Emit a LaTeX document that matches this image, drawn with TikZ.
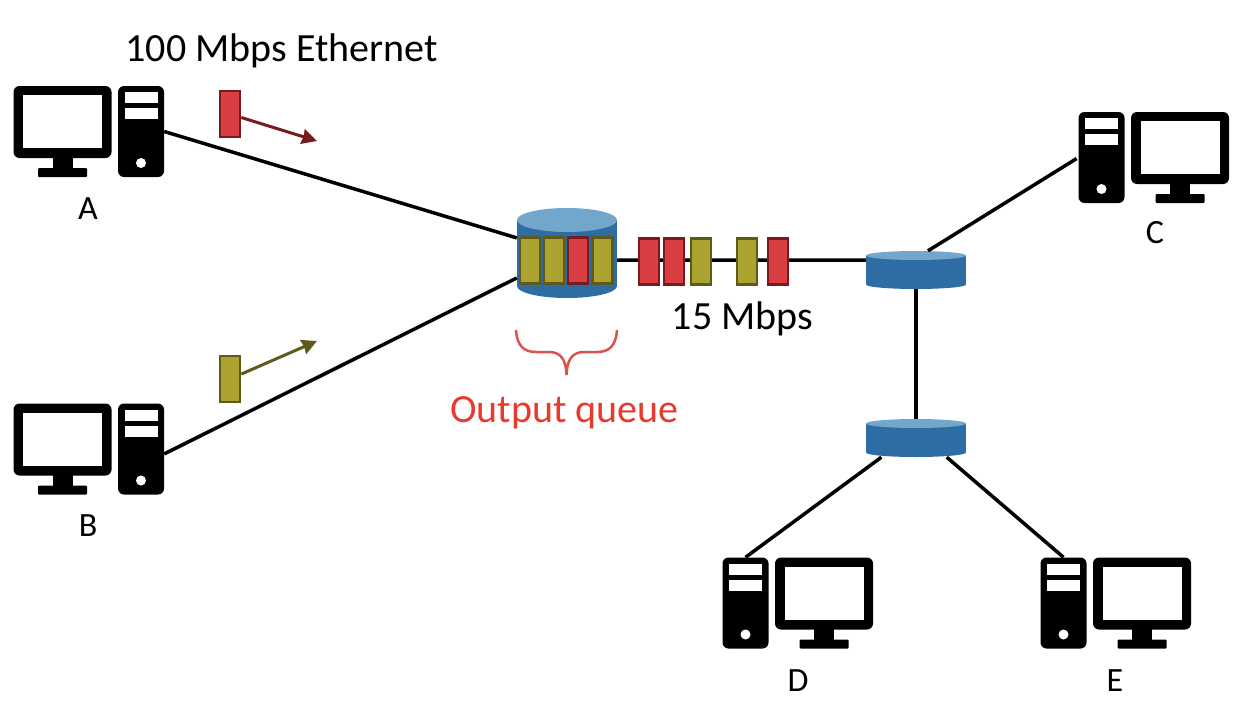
\documentclass[tikz,border=0pt]{standalone}
\usepackage{fontspec}
\setmainfont{Carlito}
\usetikzlibrary{arrows.meta}
\definecolor{bodyblue}{HTML}{2E6CA4}
\definecolor{topblue}{HTML}{73A6CB}
\definecolor{pktred}{HTML}{D93F42}
\definecolor{pktolive}{HTML}{ABA22F}
\definecolor{darkred}{HTML}{771B1E}
\definecolor{darkolive}{HTML}{5E5A1A}
\definecolor{bracered}{HTML}{D9534F}
\definecolor{queuered}{HTML}{E8392B}
\tikzset{
  label text/.style={inner sep=0pt, font=\fontsize{40}{44}\selectfont},
  host name/.style={inner sep=0pt, font=\fontsize{34}{38}\selectfont},
  packet/.style={rectangle, draw, line width=2.5pt, minimum width=20pt, minimum height=46pt, inner sep=0pt},
  redpacket/.style={packet, fill=pktred, draw=darkred},
  olivepacket/.style={packet, fill=pktolive, draw=darkolive},
  link/.style={line width=3.5pt},
  pics/drum/.style 2 args={code={
    \fill [bodyblue] (0,#1-#2) ellipse [x radius=50, y radius=#2];
    \node [rectangle, minimum width=100pt, minimum height=2*#1 pt, inner sep=0pt] (-box) at (0,0) {};
    \fill [bodyblue] (-50,-#1+#2) rectangle (50,#1-#2);
    \fill [topblue] (0,-#1+#2) ellipse [x radius=50, y radius=#2];
  }},
  pc/.pic={
    \fill [rounded corners=6pt] (-127.5,-45.5) rectangle (-29.5,26.5);
    \fill [white] (-118,-36.5) rectangle (-39,16.5);
    \fill (-88,26) rectangle (-68,37);
    \fill [rounded corners=1pt] (-103,36.5) rectangle (-54,45.5);
    \node [rectangle, fill=black, rounded corners=6pt, minimum width=46pt, minimum height=91pt, inner sep=0pt] (-tower) at (0,0) {};
    \fill [white] (-16.5,-39.5) rectangle (16.5,-28.5);
    \fill [white] (-16.5,-23.5) rectangle (16.5,-12.5);
    \fill [white] (0,31.5) circle (5);
  }
}
\begin{document}
\begin{tikzpicture}[x=1pt, y=-1pt, >={Stealth[length=15pt, width=15pt, inset=1pt]}]
\useasboundingbox (0,0) rectangle (1246,720);

% hosts
\pic (hostA) at (141,131.5) {pc};
\pic (hostB) at (141,449) {pc};
\pic [xscale=-1] (hostC) at (1101.5,157.5) {pc};
\pic [xscale=-1] (hostD) at (745.5,603) {pc};
\pic [xscale=-1] (hostE) at (1063.5,603) {pc};

% routers
\pic (queue) at (567,253) {drum={45}{12}};
\pic (routerC) at (916,270) {drum={19}{4.5}};
\pic (routerD) at (916,438) {drum={19}{4.5}};

% links
\draw [link] (hostA-tower.east) -- (queue-box);
\draw [link] (hostB-tower.-12) -- (queue-box);
\draw [link] (queue-box.-8) -- (routerC-box.169);
\draw [link, shorten >=2pt] (routerC-box.58) -- (hostC-tower.west);
\draw [link] (routerC-box) -- (routerD-box);
\draw [link] (routerD-box.209) -- (hostD-tower.north);
\draw [link] (routerD-box.-32) -- (hostE-tower.north);

% packets in the queue
\foreach \x/\s [count=\i] in {530/olivepacket,554/olivepacket,578/redpacket,602.5/olivepacket}
  \node [\s] (queue-\i) at (\x,260.5) {};

% packets on the link
\foreach \x/\s [count=\i] in {649/redpacket,674/redpacket,701/olivepacket,747/olivepacket,778/redpacket}
  \node [\s] (link-\i) at (\x,261.5) {};

% packets on their way
\node [redpacket] (pktA) at (230,114) {};
\node [olivepacket] (pktB) at (230,379) {};
\coordinate (pktA-end) at (317,141);
\coordinate (pktB-end) at (317,341);
\draw [->, line width=3pt, darkred] (pktA) -- (pktA-end);
\draw [->, line width=3pt, darkolive] (pktB) -- (pktB-end);

% brace
\draw [line width=2.5pt, bracered] (516,330) .. controls (517,346) and (524,352) .. (536,352)
  -- (549,352) .. controls (561,352) and (566,360) .. (566.5,375)
  .. controls (567,360) and (572,352) .. (584,352) -- (597,352)
  .. controls (609,352) and (616,346) .. (617,330);

% labels
\node [label text] (ethernet) at (281.5,51) {100 Mbps Ethernet};
\node [label text] (bottleneck) at (742.5,319) {15 Mbps};
\node [label text, text=queuered] (outq) at (564.5,413) {Output queue};
\node [host name] (nameA) at (88,209) {A};
\node [host name] (nameB) at (88,526) {B};
\node [host name] (nameC) at (1155,233) {C};
\node [host name] (nameD) at (798,681) {D};
\node [host name] (nameE) at (1115,681) {E};

\end{tikzpicture}
\end{document}
